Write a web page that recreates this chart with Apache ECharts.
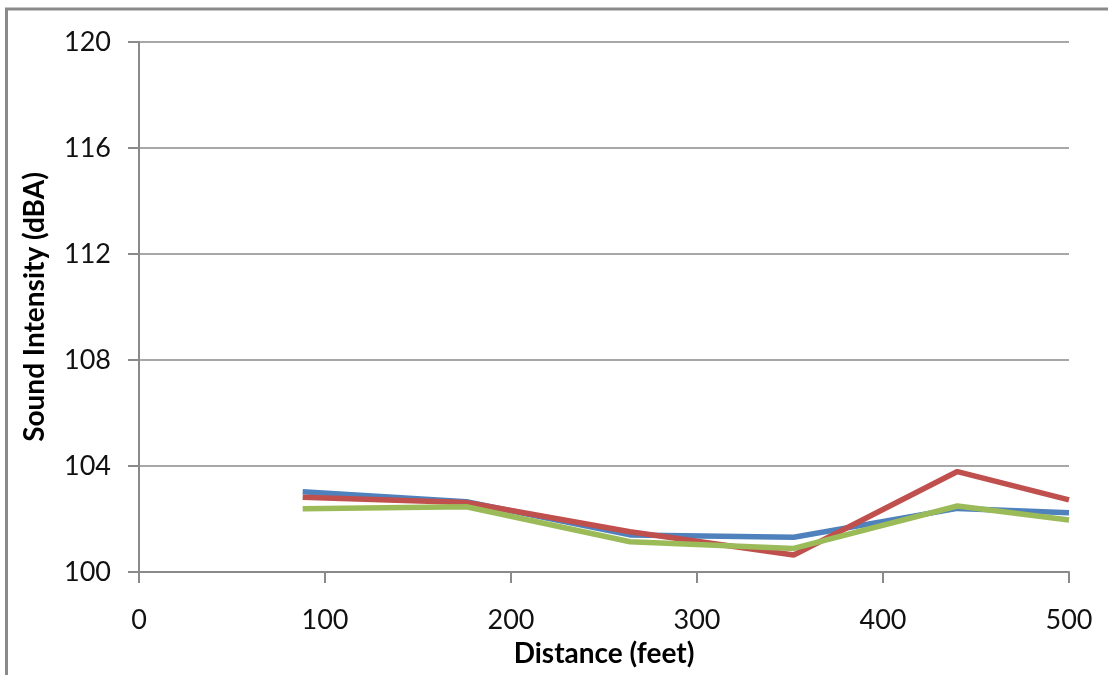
<!DOCTYPE html>
<html>
<head>
<meta charset="utf-8">
<script src="https://cdn.jsdelivr.net/npm/echarts@6/dist/echarts.min.js"></script>
<style>
html,body{margin:0;padding:0;background:#fff;}
#chart{width:1108px;height:675px;}
</style>
</head>
<body>
<div id="chart"></div>
<script>
const distances = [88, 176, 264, 352, 440, 500];
const seriesBlue = [103.03, 102.65, 101.40, 101.31, 102.40, 102.24];
const seriesRed = [102.82, 102.62, 101.52, 100.64, 103.79, 102.72];
const seriesGreen = [102.39, 102.46, 101.14, 100.89, 102.49, 101.96];
const colors = ['#4F81BD', '#C0504D', '#9BBB59'];
const xTicks = [0, 100, 200, 300, 400, 500];
const yTicks = [100, 104, 108, 112, 116, 120];

const font = 'Lato, "Liberation Sans", sans-serif';
const chart = echarts.init(document.getElementById('chart'), null, {renderer: 'canvas'});
function pairs(vals) { return distances.map((d, i) => [d, vals[i]]); }
const mk = (vals, c) => ({
  type: 'line', data: pairs(vals), showSymbol: false, symbol: 'none',
  lineStyle: {color: c, width: 5.5}, itemStyle: {color: c}, animation: false
});
chart.setOption({
  animation: false,
  backgroundColor: '#fff',
  grid: {left: 139, right: 39, top: 42, bottom: 103, containLabel: false},
  graphic: [{
    type: 'polyline', silent: true,
    shape: {points: [[6.5, 675], [6.5, 9], [1108, 9]]},
    style: {stroke: '#8a8a8a', lineWidth: 3, fill: null}
  }],
  xAxis: {
    type: 'value', min: xTicks[0], max: xTicks[xTicks.length - 1], interval: 100,
    name: 'Distance (feet)', nameLocation: 'middle', nameGap: 68,
    nameTextStyle: {fontFamily: font, fontWeight: 'bold', fontSize: 28, color: '#000'},
    axisLine: {lineStyle: {color: '#8a8a8a', width: 2}},
    axisTick: {show: true, length: 11, lineStyle: {color: '#8a8a8a', width: 2}},
    axisLabel: {fontFamily: font, fontSize: 27, color: '#111', margin: 35},
    splitLine: {show: false}
  },
  yAxis: {
    type: 'value', min: yTicks[0], max: yTicks[yTicks.length - 1], interval: 4,
    name: 'Sound Intensity (dBA)', nameLocation: 'middle', nameGap: 90,
    nameTextStyle: {fontFamily: font, fontWeight: 'bold', fontSize: 28, color: '#000'},
    axisLine: {show: true, lineStyle: {color: '#8a8a8a', width: 2}},
    axisTick: {show: true, length: 11, lineStyle: {color: '#8a8a8a', width: 2}},
    axisLabel: {fontFamily: font, fontSize: 27, color: '#111', margin: 28},
    splitLine: {show: true, lineStyle: {color: '#8a8a8a', width: 1.5}}
  },
  series: [mk(seriesBlue, colors[0]), mk(seriesRed, colors[1]), mk(seriesGreen, colors[2])]
});
</script>
</body>
</html>
